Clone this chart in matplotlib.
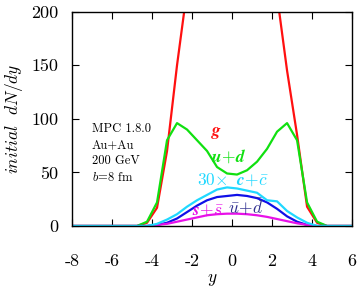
import matplotlib
matplotlib.use("Agg")
import matplotlib.pyplot as plt

plt.rcParams.update({
    "font.family": "cmr10",
    "mathtext.fontset": "cm",
    "axes.unicode_minus": False,
    "axes.formatter.use_mathtext": False,
    "font.size": 11.5,
})

# rapidity points (bin centres) and the five initial distributions
rap = [-8, -4.75, -4.25, -3.75, -3.25, -2.75, -2.25, -1.75, -1.25, -0.75, -0.25,
       0.25, 0.75, 1.25, 1.75, 2.25, 2.75, 3.25, 3.75, 4.25, 4.75, 6]
gluon = [0, 0, 3, 17, 70, 150, 220, 280, 320, 340, 345,
         345, 340, 320, 280, 215, 145, 85, 18, 3, 0, 0]
ud = [0, 0, 4, 22, 80, 96, 90, 80, 70, 55, 49,
      48, 52, 60, 72, 88, 96, 80, 22, 4, 0, 0]
ccbar30 = [0, 0, 0, 2, 6, 11, 18, 24, 29, 34, 36,
           35, 33, 31, 24, 23, 14, 8, 3, 0, 0, 0]
uubar = [0, 0, 0, 1, 3, 7, 13, 19, 24, 27, 28,
         29, 28, 26, 22, 16, 9, 4, 1, 0, 0, 0]
ssbar = [0, 0, 0, 1, 2, 4, 6, 8, 10, 11, 11.5,
         11.5, 11, 10, 8.5, 6.5, 4.5, 2.5, 1, 0, 0, 0]

xticks = [-8, -6, -4, -2, 0, 2, 4, 6]
yticks = [0, 50, 100, 150, 200]

RED = "#ff1010"
GREEN = "#10e010"
CYAN = "#20d8ff"
BLUE = "#1010e8"
MAGENTA = "#e810e8"
NAVY = "#303090"

fig = plt.figure(figsize=(3.6, 2.91), dpi=100)
ax = fig.add_axes([0.2, 0.2234, 0.778, 0.7366])

ax.plot(rap, gluon, color=RED, lw=1.6)
ax.plot(rap, ud, color=GREEN, lw=1.6)
ax.plot(rap, uubar, color=BLUE, lw=1.6)
ax.plot(rap, ssbar, color=MAGENTA, lw=1.6)
ax.plot(rap, ccbar30, color=CYAN, lw=1.6)

ax.set_xlim(-8, 6)
ax.set_ylim(0, 200)
ax.set_xticks(xticks)
ax.set_yticks(yticks)
ax.tick_params(direction="in", top=True, right=True, length=5, width=0.8, labelsize=13)
ax.tick_params(axis="x", pad=20)
ax.tick_params(axis="y", pad=10)
for s in ax.spines.values():
    s.set_linewidth(1.0)

ax.set_xlabel("$y$", fontsize=12.5, labelpad=2)
ax.set_ylabel(r"$initial\ \ dN/dy$", fontsize=12.5, labelpad=4)

ax.text(-0.75, 87, r"$\boldsymbol{g}$", color=RED, fontsize=12.5, ha="center", va="center")
ax.text(-0.15, 65, r"$\boldsymbol{u\!+\!d}$", color=GREEN, fontsize=12.5, ha="center", va="center")
ax.text(0.05, 43, r"$\mathbf{30}\!\times\ \boldsymbol{c\!+\!\bar{c}}$", color=CYAN, fontsize=12.5,
        ha="center", va="center")
ax.text(-1.2, 15, r"$\boldsymbol{s\!+\!\bar{s}}$", color=MAGENTA, fontsize=12.5, ha="center", va="center")
ax.text(0.7, 18, r"$\boldsymbol{\bar{u}\!+\!\bar{d}}$", color=NAVY, fontsize=12.5, ha="center", va="center")

ax.text(-7.0, 96, "MPC 1.8.0\nAu+Au\n200 GeV\n$b$=8 fm", fontsize=9, va="top", ha="left",
        linespacing=1.4)

fig.savefig("out.png", dpi=100)
